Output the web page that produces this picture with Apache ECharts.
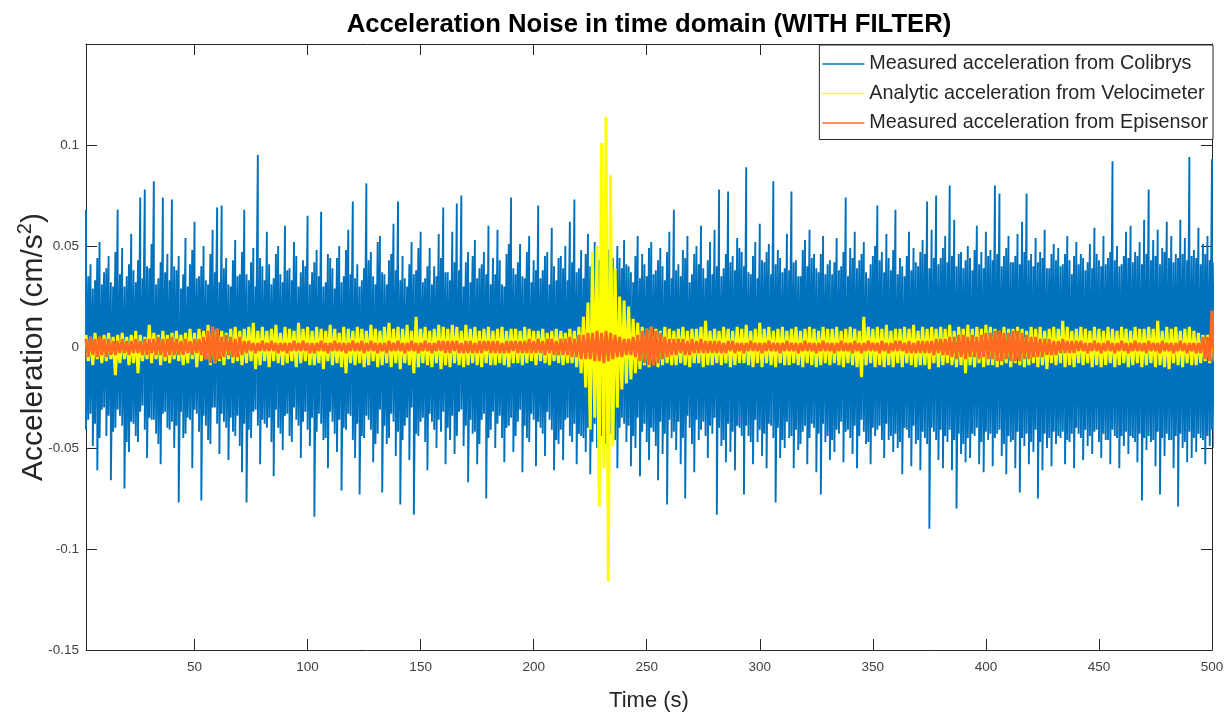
<!DOCTYPE html>
<html>
<head>
<meta charset="utf-8">
<title>Acceleration Noise in time domain (WITH FILTER)</title>
<script src="https://cdn.jsdelivr.net/npm/echarts@6/dist/echarts.min.js"></script>
<style>
  html, body { margin: 0; padding: 0; background: #fff; }
  #chart { width: 1231px; height: 713px; }
</style>
</head>
<body>
<div id="chart"></div>
<script>
// one value per second, first second at t = 2 s
const startTime = 2;

const seriesNames = [
  'Measured acceleration from Colibrys',
  'Analytic acceleration from Velocimeter',
  'Measured acceleration from Episensor',
];

// Colibrys (cm/s^2): highest and lowest value inside each second
const colibrysMax = [
  0.068, 0.035, 0.041, 0.029, 0.033, 0.044, 0.052, 0.031, 0.037, 0.039,
  0.045, 0.032, 0.030, 0.047, 0.068, 0.036, 0.049, 0.030, 0.035, 0.041,
  0.056, 0.038, 0.032, 0.043, 0.074, 0.034, 0.078, 0.040, 0.039, 0.051,
  0.082, 0.031, 0.034, 0.042, 0.074, 0.037, 0.046, 0.033, 0.073, 0.040,
  0.038, 0.045, 0.029, 0.036, 0.054, 0.030, 0.041, 0.048, 0.062, 0.034,
  0.035, 0.040, 0.050, 0.033, 0.031, 0.046, 0.058, 0.037, 0.069, 0.032,
  0.070, 0.039, 0.044, 0.031, 0.030, 0.043, 0.053, 0.035, 0.036, 0.047,
  0.068, 0.036, 0.033, 0.042, 0.049, 0.030, 0.095, 0.044, 0.040, 0.033,
  0.057, 0.041, 0.031, 0.034, 0.046, 0.050, 0.036, 0.032, 0.060, 0.038,
  0.039, 0.033, 0.052, 0.045, 0.030, 0.037, 0.043, 0.040, 0.065, 0.031,
  0.037, 0.042, 0.048, 0.035, 0.067, 0.030, 0.032, 0.046, 0.044, 0.039,
  0.029, 0.044, 0.050, 0.032, 0.035, 0.048, 0.058, 0.036, 0.072, 0.034,
  0.041, 0.030, 0.033, 0.039, 0.081, 0.043, 0.047, 0.035, 0.031, 0.052,
  0.055, 0.037, 0.036, 0.031, 0.043, 0.046, 0.061, 0.038, 0.072, 0.033,
  0.045, 0.034, 0.030, 0.041, 0.052, 0.036, 0.038, 0.049, 0.057, 0.032,
  0.034, 0.040, 0.049, 0.031, 0.040, 0.035, 0.056, 0.044, 0.069, 0.037,
  0.037, 0.033, 0.057, 0.042, 0.071, 0.038, 0.075, 0.030, 0.042, 0.047,
  0.032, 0.045, 0.053, 0.034, 0.039, 0.041, 0.047, 0.036, 0.060, 0.031,
  0.044, 0.036, 0.058, 0.043, 0.031, 0.030, 0.046, 0.051, 0.074, 0.039,
  0.036, 0.042, 0.051, 0.035, 0.034, 0.047, 0.055, 0.032, 0.043, 0.038,
  0.070, 0.034, 0.038, 0.045, 0.047, 0.031, 0.059, 0.040, 0.033, 0.044,
  0.045, 0.039, 0.050, 0.033, 0.062, 0.042, 0.073, 0.037, 0.039, 0.048,
  0.034, 0.046, 0.056, 0.040, 0.041, 0.052, 0.048, 0.043, 0.058, 0.047,
  0.043, 0.048, 0.069, 0.044, 0.037, 0.050, 0.044, 0.039, 0.053, 0.041,
  0.040, 0.037, 0.032, 0.045, 0.055, 0.034, 0.046, 0.041, 0.035, 0.049,
  0.052, 0.036, 0.038, 0.043, 0.049, 0.040, 0.033, 0.047, 0.057, 0.034,
  0.068, 0.038, 0.041, 0.035, 0.048, 0.044, 0.055, 0.032, 0.036, 0.046,
  0.050, 0.041, 0.060, 0.039, 0.034, 0.043, 0.052, 0.036, 0.058, 0.040,
  0.078, 0.035, 0.039, 0.046, 0.077, 0.042, 0.045, 0.038, 0.054, 0.049,
  0.047, 0.040, 0.089, 0.037, 0.036, 0.045, 0.052, 0.034, 0.061, 0.043,
  0.042, 0.047, 0.051, 0.036, 0.082, 0.041, 0.048, 0.044, 0.037, 0.039,
  0.056, 0.038, 0.077, 0.042, 0.043, 0.035, 0.035, 0.048, 0.053, 0.040,
  0.058, 0.044, 0.046, 0.039, 0.037, 0.046, 0.055, 0.036, 0.041, 0.043,
  0.036, 0.042, 0.054, 0.038, 0.040, 0.047, 0.074, 0.035, 0.049, 0.044,
  0.057, 0.039, 0.043, 0.046, 0.052, 0.037, 0.034, 0.041, 0.045, 0.050,
  0.070, 0.043, 0.047, 0.037, 0.056, 0.044, 0.038, 0.048, 0.068, 0.036,
  0.044, 0.040, 0.035, 0.045, 0.057, 0.038, 0.049, 0.042, 0.040, 0.047,
  0.053, 0.046, 0.072, 0.039, 0.058, 0.044, 0.075, 0.041, 0.044, 0.049,
  0.055, 0.042, 0.080, 0.045, 0.063, 0.040, 0.046, 0.047, 0.039, 0.043,
  0.050, 0.044, 0.038, 0.048, 0.060, 0.041, 0.047, 0.039, 0.057, 0.045,
  0.048, 0.043, 0.080, 0.046, 0.076, 0.040, 0.045, 0.049, 0.055, 0.042,
  0.042, 0.045, 0.056, 0.041, 0.062, 0.047, 0.076, 0.043, 0.046, 0.040,
  0.054, 0.042, 0.047, 0.044, 0.058, 0.039, 0.039, 0.046, 0.051, 0.043,
  0.049, 0.040, 0.041, 0.046, 0.055, 0.043, 0.036, 0.045, 0.052, 0.041,
  0.046, 0.044, 0.038, 0.042, 0.051, 0.039, 0.059, 0.046, 0.043, 0.040,
  0.055, 0.041, 0.044, 0.047, 0.092, 0.043, 0.050, 0.040, 0.041, 0.045,
  0.057, 0.044, 0.060, 0.042, 0.047, 0.045, 0.052, 0.041, 0.063, 0.046,
  0.078, 0.043, 0.053, 0.045, 0.058, 0.041, 0.049, 0.047, 0.062, 0.044,
  0.055, 0.042, 0.046, 0.044, 0.063, 0.046, 0.054, 0.043, 0.094, 0.045,
  0.048, 0.044, 0.059, 0.041, 0.051, 0.046, 0.055, 0.043, 0.093, 0.042,
];

const colibrysMin = [
  -0.041, -0.036, -0.033, -0.049, -0.038, -0.061, -0.045, -0.031, -0.030, -0.044,
  -0.034, -0.066, -0.042, -0.040, -0.031, -0.034, -0.039, -0.070, -0.047, -0.052,
  -0.037, -0.038, -0.044, -0.047, -0.032, -0.029, -0.041, -0.055, -0.035, -0.036,
  -0.036, -0.043, -0.048, -0.058, -0.033, -0.032, -0.040, -0.041, -0.037, -0.050,
  -0.039, -0.077, -0.032, -0.045, -0.043, -0.035, -0.036, -0.060, -0.031, -0.033,
  -0.042, -0.076, -0.034, -0.039, -0.046, -0.048, -0.030, -0.030, -0.038, -0.053,
  -0.033, -0.037, -0.040, -0.056, -0.035, -0.042, -0.044, -0.034, -0.049, -0.062,
  -0.038, -0.077, -0.041, -0.045, -0.032, -0.031, -0.039, -0.058, -0.036, -0.038,
  -0.040, -0.035, -0.047, -0.064, -0.031, -0.040, -0.043, -0.051, -0.034, -0.033,
  -0.044, -0.047, -0.030, -0.036, -0.039, -0.055, -0.037, -0.032, -0.041, -0.049,
  -0.035, -0.084, -0.042, -0.033, -0.038, -0.046, -0.045, -0.060, -0.032, -0.037,
  -0.043, -0.052, -0.036, -0.071, -0.040, -0.041, -0.033, -0.034, -0.046, -0.055,
  -0.038, -0.073, -0.044, -0.045, -0.034, -0.036, -0.041, -0.057, -0.048, -0.043,
  -0.031, -0.072, -0.039, -0.048, -0.045, -0.033, -0.037, -0.054, -0.042, -0.078,
  -0.046, -0.039, -0.035, -0.056, -0.030, -0.083, -0.043, -0.044, -0.037, -0.035,
  -0.047, -0.061, -0.033, -0.037, -0.041, -0.050, -0.036, -0.042, -0.032, -0.058,
  -0.040, -0.046, -0.034, -0.053, -0.044, -0.032, -0.031, -0.049, -0.039, -0.067,
  -0.036, -0.043, -0.042, -0.058, -0.048, -0.036, -0.033, -0.075, -0.045, -0.041,
  -0.032, -0.050, -0.038, -0.034, -0.045, -0.057, -0.040, -0.039, -0.035, -0.052,
  -0.044, -0.037, -0.031, -0.062, -0.039, -0.045, -0.047, -0.033, -0.036, -0.059,
  -0.037, -0.040, -0.043, -0.054, -0.032, -0.036, -0.041, -0.061, -0.046, -0.048,
  -0.041, -0.056, -0.036, -0.035, -0.044, -0.047, -0.038, -0.058, -0.043, -0.044,
  -0.045, -0.052, -0.040, -0.063, -0.047, -0.038, -0.050, -0.066, -0.044, -0.049,
  -0.048, -0.057, -0.043, -0.041, -0.046, -0.060, -0.040, -0.035, -0.038, -0.047,
  -0.039, -0.059, -0.044, -0.050, -0.035, -0.064, -0.042, -0.038, -0.047, -0.056,
  -0.040, -0.042, -0.049, -0.066, -0.037, -0.053, -0.043, -0.078, -0.036, -0.045,
  -0.042, -0.051, -0.037, -0.058, -0.045, -0.075, -0.034, -0.040, -0.048, -0.062,
  -0.036, -0.046, -0.041, -0.037, -0.044, -0.055, -0.039, -0.043, -0.035, -0.083,
  -0.040, -0.049, -0.046, -0.057, -0.038, -0.052, -0.042, -0.061, -0.039, -0.040,
  -0.044, -0.073, -0.039, -0.044, -0.047, -0.058, -0.036, -0.047, -0.041, -0.054,
  -0.043, -0.060, -0.038, -0.039, -0.045, -0.077, -0.040, -0.055, -0.046, -0.050,
  -0.037, -0.045, -0.044, -0.060, -0.041, -0.051, -0.048, -0.042, -0.039, -0.058,
  -0.045, -0.038, -0.040, -0.062, -0.043, -0.073, -0.038, -0.047, -0.044, -0.056,
  -0.046, -0.052, -0.041, -0.043, -0.037, -0.057, -0.042, -0.041, -0.045, -0.053,
  -0.039, -0.060, -0.044, -0.036, -0.042, -0.048, -0.047, -0.058, -0.040, -0.044,
  -0.041, -0.039, -0.046, -0.055, -0.038, -0.046, -0.044, -0.052, -0.043, -0.050,
  -0.047, -0.063, -0.040, -0.041, -0.045, -0.059, -0.039, -0.048, -0.046, -0.061,
  -0.042, -0.045, -0.048, -0.090, -0.040, -0.042, -0.046, -0.056, -0.041, -0.060,
  -0.044, -0.047, -0.041, -0.061, -0.046, -0.080, -0.043, -0.053, -0.048, -0.057,
  -0.045, -0.055, -0.043, -0.044, -0.040, -0.058, -0.047, -0.062, -0.042, -0.046,
  -0.043, -0.059, -0.045, -0.043, -0.041, -0.054, -0.048, -0.063, -0.044, -0.047,
  -0.046, -0.060, -0.042, -0.072, -0.045, -0.049, -0.043, -0.058, -0.047, -0.052,
  -0.041, -0.075, -0.047, -0.061, -0.043, -0.050, -0.045, -0.059, -0.042, -0.048,
  -0.044, -0.045, -0.042, -0.058, -0.046, -0.047, -0.043, -0.060, -0.040, -0.043,
  -0.045, -0.056, -0.041, -0.049, -0.044, -0.053, -0.042, -0.041, -0.047, -0.055,
  -0.043, -0.046, -0.046, -0.058, -0.041, -0.044, -0.045, -0.060, -0.044, -0.049,
  -0.042, -0.053, -0.044, -0.045, -0.047, -0.057, -0.043, -0.076, -0.045, -0.051,
  -0.044, -0.047, -0.046, -0.059, -0.042, -0.073, -0.045, -0.054, -0.043, -0.046,
  -0.046, -0.060, -0.044, -0.079, -0.043, -0.050, -0.047, -0.057, -0.042, -0.055,
  -0.045, -0.052, -0.043, -0.045, -0.046, -0.058, -0.044, -0.049, -0.041, -0.050,
];

// velocimeter, differentiated (cm/s^2), one peak per second
const velocimeter = [
  0.006, -0.007, 0.005, -0.009, 0.007, -0.006, 0.005, -0.008, 0.006, -0.007,
  0.007, -0.006, 0.005, -0.014, 0.006, -0.008, 0.007, -0.006, 0.005, -0.009,
  0.006, -0.008, 0.008, -0.013, 0.006, -0.007, 0.005, -0.006, 0.011, -0.008,
  0.007, -0.006, 0.006, -0.009, 0.008, -0.007, 0.006, -0.008, 0.007, -0.006,
  0.008, -0.007, 0.006, -0.009, 0.007, -0.008, 0.009, -0.006, 0.007, -0.010,
  0.009, -0.007, 0.008, -0.006, 0.011, -0.009, 0.010, -0.008, 0.009, -0.007,
  0.008, -0.009, 0.007, -0.006, 0.009, -0.008, 0.010, -0.007, 0.008, -0.009,
  0.009, -0.008, 0.010, -0.007, 0.012, -0.011, 0.008, -0.009, 0.010, -0.007,
  0.008, -0.010, 0.009, -0.007, 0.011, -0.008, 0.007, -0.009, 0.010, -0.008,
  0.009, -0.007, 0.008, -0.010, 0.012, -0.008, 0.009, -0.007, 0.010, -0.009,
  0.008, -0.009, 0.010, -0.008, 0.009, -0.011, 0.008, -0.007, 0.011, -0.009,
  0.009, -0.008, 0.007, -0.010, 0.010, -0.013, 0.009, -0.008, 0.008, -0.009,
  0.010, -0.008, 0.009, -0.010, 0.008, -0.009, 0.011, -0.007, 0.009, -0.010,
  0.008, -0.009, 0.010, -0.008, 0.012, -0.010, 0.009, -0.008, 0.010, -0.011,
  0.009, -0.008, 0.011, -0.009, 0.008, -0.013, 0.015, -0.010, 0.009, -0.008,
  0.010, -0.009, 0.008, -0.010, 0.009, -0.008, 0.011, -0.011, 0.010, -0.009,
  0.009, -0.010, 0.011, -0.008, 0.010, -0.009, 0.008, -0.010, 0.011, -0.009,
  0.009, -0.008, 0.010, -0.009, 0.008, -0.010, 0.009, -0.008, 0.010, -0.009,
  0.008, -0.009, 0.009, -0.008, 0.010, -0.009, 0.008, -0.010, 0.009, -0.008,
  0.009, -0.008, 0.008, -0.009, 0.010, -0.008, 0.009, -0.007, 0.008, -0.009,
  0.008, -0.007, 0.009, -0.008, 0.007, -0.009, 0.008, -0.007, 0.009, -0.008,
  0.008, -0.009, 0.007, -0.008, 0.009, -0.008, 0.008, -0.010, 0.010, -0.013,
  0.015, -0.020, 0.022, -0.041, 0.047, -0.035, 0.050, -0.079, 0.101, -0.060,
  0.114, -0.116, 0.085, -0.049, 0.039, -0.030, 0.025, -0.021, 0.023, -0.018,
  0.020, -0.016, 0.014, -0.013, 0.012, -0.011, 0.010, -0.009, 0.009, -0.010,
  0.010, -0.009, 0.009, -0.010, 0.008, -0.009, 0.010, -0.008, 0.009, -0.009,
  0.008, -0.009, 0.009, -0.008, 0.010, -0.009, 0.008, -0.010, 0.009, -0.008,
  0.009, -0.008, 0.010, -0.010, 0.013, -0.009, 0.008, -0.009, 0.009, -0.008,
  0.008, -0.009, 0.010, -0.008, 0.009, -0.010, 0.008, -0.009, 0.010, -0.008,
  0.009, -0.008, 0.011, -0.009, 0.008, -0.010, 0.009, -0.008, 0.012, -0.010,
  0.009, -0.008, 0.010, -0.009, 0.008, -0.010, 0.009, -0.008, 0.010, -0.009,
  0.008, -0.009, 0.009, -0.008, 0.010, -0.009, 0.008, -0.010, 0.009, -0.008,
  0.010, -0.009, 0.009, -0.010, 0.008, -0.009, 0.010, -0.008, 0.009, -0.009,
  0.009, -0.008, 0.010, -0.009, 0.008, -0.010, 0.009, -0.008, 0.010, -0.009,
  0.009, -0.010, 0.008, -0.015, 0.015, -0.009, 0.010, -0.008, 0.009, -0.010,
  0.010, -0.009, 0.009, -0.010, 0.011, -0.009, 0.008, -0.010, 0.009, -0.008,
  0.009, -0.010, 0.010, -0.008, 0.009, -0.009, 0.011, -0.010, 0.008, -0.009,
  0.010, -0.009, 0.009, -0.011, 0.010, -0.008, 0.009, -0.010, 0.010, -0.009,
  0.009, -0.008, 0.011, -0.009, 0.008, -0.010, 0.010, -0.009, 0.009, -0.013,
  0.011, -0.009, 0.009, -0.010, 0.010, -0.008, 0.009, -0.010, 0.011, -0.009,
  0.010, -0.009, 0.009, -0.010, 0.008, -0.009, 0.010, -0.008, 0.009, -0.010,
  0.009, -0.008, 0.010, -0.009, 0.009, -0.010, 0.008, -0.009, 0.010, -0.008,
  0.009, -0.010, 0.010, -0.009, 0.008, -0.011, 0.009, -0.008, 0.010, -0.009,
  0.009, -0.008, 0.013, -0.010, 0.010, -0.009, 0.008, -0.010, 0.009, -0.008,
  0.010, -0.009, 0.009, -0.008, 0.008, -0.010, 0.010, -0.009, 0.009, -0.010,
  0.008, -0.009, 0.010, -0.008, 0.009, -0.010, 0.008, -0.009, 0.010, -0.008,
  0.009, -0.010, 0.008, -0.009, 0.010, -0.008, 0.009, -0.010, 0.009, -0.009,
  0.010, -0.008, 0.009, -0.010, 0.013, -0.009, 0.008, -0.010, 0.010, -0.011,
  0.009, -0.008, 0.010, -0.009, 0.008, -0.010, 0.009, -0.008, 0.010, -0.009,
  0.008, -0.009, 0.007, -0.008, 0.006, -0.007, 0.006, -0.008, 0.007, -0.006,
];

// Episensor (cm/s^2), one peak per second
const episensor = [
  0.004, -0.005, 0.005, -0.004, 0.004, -0.005, 0.005, -0.004, 0.004, -0.005,
  0.004, -0.004, 0.003, -0.004, 0.003, -0.003, 0.004, -0.003, 0.003, -0.004,
  0.003, -0.003, 0.004, -0.003, 0.003, -0.004, 0.004, -0.004, 0.004, -0.003,
  0.004, -0.004, 0.005, -0.004, 0.004, -0.005, 0.004, -0.004, 0.005, -0.004,
  0.004, -0.004, 0.003, -0.004, 0.004, -0.003, 0.003, -0.004, 0.004, -0.003,
  0.004, -0.004, 0.005, -0.006, 0.008, -0.008, 0.010, -0.008, 0.009, -0.006,
  0.005, -0.005, 0.006, -0.004, 0.005, -0.005, 0.004, -0.005, 0.005, -0.004,
  0.003, -0.003, 0.003, -0.002, 0.002, -0.003, 0.002, -0.002, 0.003, -0.002,
  0.002, -0.002, 0.003, -0.002, 0.002, -0.003, 0.002, -0.002, 0.002, -0.003,
  0.002, -0.002, 0.003, -0.002, 0.002, -0.002, 0.003, -0.002, 0.002, -0.003,
  0.002, -0.003, 0.002, -0.002, 0.003, -0.002, 0.002, -0.003, 0.002, -0.002,
  0.003, -0.002, 0.002, -0.002, 0.002, -0.003, 0.002, -0.002, 0.003, -0.002,
  0.002, -0.002, 0.003, -0.003, 0.002, -0.002, 0.003, -0.002, 0.002, -0.003,
  0.002, -0.002, 0.002, -0.003, 0.003, -0.002, 0.002, -0.002, 0.003, -0.002,
  0.002, -0.003, 0.002, -0.002, 0.003, -0.002, 0.002, -0.003, 0.002, -0.002,
  0.003, -0.002, 0.002, -0.003, 0.002, -0.002, 0.003, -0.002, 0.003, -0.003,
  0.003, -0.003, 0.003, -0.002, 0.003, -0.003, 0.002, -0.003, 0.003, -0.003,
  0.003, -0.003, 0.002, -0.003, 0.003, -0.003, 0.003, -0.002, 0.003, -0.003,
  0.003, -0.003, 0.003, -0.003, 0.002, -0.003, 0.003, -0.003, 0.003, -0.002,
  0.003, -0.003, 0.003, -0.003, 0.003, -0.003, 0.004, -0.003, 0.003, -0.003,
  0.004, -0.003, 0.003, -0.004, 0.004, -0.003, 0.004, -0.004, 0.003, -0.004,
  0.004, -0.004, 0.004, -0.004, 0.005, -0.005, 0.004, -0.005, 0.006, -0.006,
  0.006, -0.006, 0.007, -0.006, 0.007, -0.007, 0.008, -0.007, 0.007, -0.008,
  0.008, -0.007, 0.007, -0.006, 0.006, -0.005, 0.005, -0.005, 0.004, -0.004,
  0.004, -0.004, 0.005, -0.005, 0.006, -0.007, 0.008, -0.008, 0.009, -0.009,
  0.010, -0.009, 0.008, -0.008, 0.007, -0.006, 0.005, -0.005, 0.004, -0.004,
  0.004, -0.004, 0.004, -0.003, 0.004, -0.004, 0.003, -0.004, 0.004, -0.003,
  0.003, -0.003, 0.004, -0.003, 0.003, -0.003, 0.003, -0.003, 0.003, -0.003,
  0.003, -0.003, 0.002, -0.003, 0.003, -0.002, 0.003, -0.003, 0.002, -0.002,
  0.002, -0.003, 0.002, -0.002, 0.003, -0.002, 0.002, -0.002, 0.002, -0.003,
  0.002, -0.002, 0.003, -0.002, 0.002, -0.002, 0.002, -0.003, 0.002, -0.002,
  0.003, -0.002, 0.002, -0.002, 0.002, -0.003, 0.002, -0.002, 0.003, -0.002,
  0.002, -0.002, 0.002, -0.003, 0.002, -0.002, 0.003, -0.002, 0.002, -0.002,
  0.002, -0.003, 0.002, -0.002, 0.003, -0.002, 0.002, -0.002, 0.002, -0.003,
  0.003, -0.002, 0.002, -0.003, 0.002, -0.002, 0.003, -0.002, 0.002, -0.002,
  0.002, -0.003, 0.003, -0.002, 0.002, -0.003, 0.002, -0.002, 0.003, -0.002,
  0.003, -0.002, 0.002, -0.003, 0.003, -0.003, 0.002, -0.003, 0.003, -0.003,
  0.003, -0.003, 0.003, -0.003, 0.003, -0.004, 0.004, -0.003, 0.004, -0.004,
  0.004, -0.004, 0.005, -0.005, 0.005, -0.006, 0.006, -0.005, 0.006, -0.006,
  0.005, -0.005, 0.006, -0.005, 0.005, -0.006, 0.006, -0.005, 0.007, -0.006,
  0.007, -0.006, 0.008, -0.007, 0.008, -0.007, 0.007, -0.006, 0.007, -0.007,
  0.008, -0.007, 0.008, -0.007, 0.007, -0.006, 0.006, -0.006, 0.005, -0.005,
  0.005, -0.005, 0.004, -0.005, 0.004, -0.004, 0.004, -0.004, 0.003, -0.004,
  0.003, -0.003, 0.004, -0.003, 0.003, -0.003, 0.003, -0.003, 0.003, -0.002,
  0.003, -0.002, 0.002, -0.003, 0.002, -0.002, 0.003, -0.002, 0.002, -0.003,
  0.002, -0.002, 0.003, -0.002, 0.002, -0.003, 0.002, -0.002, 0.003, -0.002,
  0.002, -0.003, 0.002, -0.002, 0.003, -0.002, 0.002, -0.002, 0.002, -0.003,
  0.003, -0.002, 0.002, -0.002, 0.002, -0.003, 0.003, -0.002, 0.002, -0.002,
  0.002, -0.003, 0.002, -0.002, 0.003, -0.002, 0.002, -0.003, 0.002, -0.002,
  0.002, -0.003, 0.002, -0.003, 0.005, -0.006, 0.005, -0.007, 0.018, -0.007,
];

const yTicks = { min: -0.15, max: 0.15, step: 0.05 };
const timeRange = { min: 2, max: 500 };

const font = "'Liberation Sans', Arial, Helvetica, sans-serif";
const axisColor = '#262626';
const colors = ['#0072BD', '#FFFF00', '#FF6A22'];

// per second: top of the second, then bottom of it
const toRangePoints = (hi, lo) => hi.flatMap((v, i) => [[startTime + i, v], [startTime + i, lo[i]]]);
const toPoints = (values) => values.map((v, i) => [startTime + i, v]);

const chart = echarts.init(document.getElementById('chart'), null, { renderer: 'canvas' });

const xAxisBase = {
  type: 'value',
  min: timeRange.min,
  max: timeRange.max,
  splitNumber: 10,
  axisLine: { show: true, onZero: false, lineStyle: { color: axisColor, width: 1 } },
  axisTick: { show: true, inside: true, length: 11, lineStyle: { color: axisColor } },
  splitLine: { show: false },
};

const yAxisBase = {
  type: 'value',
  min: yTicks.min,
  max: yTicks.max,
  interval: yTicks.step,
  axisLine: { show: true, onZero: false, lineStyle: { color: axisColor, width: 1 } },
  axisTick: { show: true, inside: true, length: 11, lineStyle: { color: axisColor } },
  splitLine: { show: false },
};

const lineSeries = (name, data, k, width) => ({
  name,
  type: 'line',
  data,
  xAxisIndex: 0,
  yAxisIndex: 0,
  symbol: 'none',
  showSymbol: false,
  clip: true,
  z: 2 + k,
  lineStyle: { width, color: colors[k] },
  itemStyle: { color: colors[k] },
  emphasis: { disabled: true },
});

chart.setOption({
  animation: false,
  backgroundColor: '#fff',
  color: colors,
  title: {
    text: 'Acceleration Noise in time domain (WITH FILTER)',
    left: 644,
    top: 7,
    textAlign: 'center',
    textStyle: { fontFamily: font, fontSize: 25.7, fontWeight: 'bold', color: '#000' },
  },
  legend: {
    orient: 'vertical',
    right: 18,
    top: 45,
    data: seriesNames,
    icon: 'rect',
    itemWidth: 42,
    itemHeight: 1.5,
    itemGap: 9.5,
    padding: [9, 5, 6.5, 3],
    backgroundColor: '#fff',
    borderColor: axisColor,
    borderWidth: 1,
    borderRadius: 0,
    textStyle: { fontFamily: font, fontSize: 19.8, color: axisColor },
  },
  grid: { left: 86, right: 19, top: 44, bottom: 63, outerBoundsMode: 'none' },
  xAxis: [
    Object.assign({}, xAxisBase, {
      position: 'bottom',
      name: 'Time (s)',
      nameLocation: 'middle',
      nameGap: 40,
      nameMoveOverlap: false,
      nameTextStyle: { fontFamily: font, fontSize: 22, color: axisColor },
      axisLabel: { show: true, showMinLabel: false, margin: 10, fontFamily: font, fontSize: 13.5, color: '#404040' },
    }),
    Object.assign({}, xAxisBase, {
      position: 'top',
      axisLabel: { show: false },
    }),
  ],
  yAxis: [
    Object.assign({}, yAxisBase, {
      position: 'left',
      name: '{a|Acceleration (cm/s}{s|2}{a|)}',
      nameLocation: 'middle',
      nameGap: 37,
      nameMoveOverlap: false,
      nameRotate: 90,
      nameTextStyle: {
        fontFamily: font,
        color: axisColor,
        rich: {
          a: { fontFamily: font, fontSize: 30, color: axisColor, lineHeight: 34, verticalAlign: 'bottom' },
          s: { fontFamily: font, fontSize: 20, color: axisColor, lineHeight: 34, verticalAlign: 'top' },
        },
      },
      axisLabel: { show: true, showMaxLabel: false, margin: 7, fontFamily: font, fontSize: 13.5, color: '#404040' },
    }),
    Object.assign({}, yAxisBase, {
      position: 'right',
      axisLabel: { show: false },
    }),
  ],
  series: [
    lineSeries(seriesNames[0], toRangePoints(colibrysMax, colibrysMin), 0, 1.9),
    lineSeries(seriesNames[1], toPoints(velocimeter), 1, 3),
    lineSeries(seriesNames[2], toPoints(episensor), 2, 3),
  ],
});
</script>
</body>
</html>
